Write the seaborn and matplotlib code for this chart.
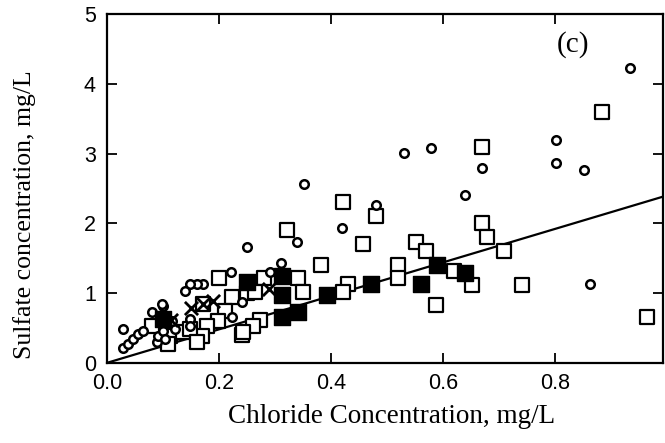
import matplotlib
matplotlib.use("Agg")
import matplotlib.pyplot as plt
import seaborn as sns
import numpy as np
import pandas as pd

# ---- data ----
circle_x = [0.934, 0.802, 0.802, 0.852, 0.863, 0.670, 0.640, 0.531, 0.579, 0.481,
            0.419, 0.351, 0.339, 0.310, 0.250, 0.221, 0.291, 0.171, 0.160, 0.148,
            0.139, 0.100, 0.080, 0.098, 0.029, 0.028, 0.037, 0.046, 0.055, 0.064,
            0.089, 0.091, 0.100, 0.121, 0.148, 0.116, 0.148, 0.241, 0.223, 0.103]
circle_y = [4.23, 3.19, 2.86, 2.76, 1.13, 2.79, 2.41, 3.01, 3.08, 2.26,
            1.93, 2.56, 1.73, 1.43, 1.66, 1.30, 1.30, 1.13, 1.13, 1.13,
            1.03, 0.81, 0.73, 0.84, 0.49, 0.21, 0.27, 0.34, 0.41, 0.46,
            0.30, 0.39, 0.46, 0.49, 0.63, 0.60, 0.53, 0.87, 0.66, 0.34]

open_sq_x = [0.884, 0.670, 0.421, 0.481, 0.321, 0.458, 0.551, 0.570, 0.670, 0.679,
             0.709, 0.620, 0.651, 0.742, 0.964, 0.588, 0.520, 0.520, 0.430, 0.421,
             0.383, 0.341, 0.350, 0.280, 0.200, 0.250, 0.264, 0.223, 0.172, 0.210,
             0.198, 0.178, 0.273, 0.260, 0.241, 0.169, 0.080, 0.112, 0.109, 0.136,
             0.148, 0.160, 0.243]
open_sq_y = [3.59, 3.10, 2.30, 2.11, 1.90, 1.71, 1.73, 1.61, 2.01, 1.81,
             1.61, 1.31, 1.11, 1.11, 0.66, 0.83, 1.41, 1.21, 1.13, 1.01,
             1.41, 1.21, 1.01, 1.21, 1.21, 1.00, 1.01, 0.94, 0.85, 0.74,
             0.60, 0.53, 0.61, 0.53, 0.40, 0.39, 0.53, 0.39, 0.27, 0.44,
             0.49, 0.30, 0.44]

filled_sq_x = [0.100, 0.250, 0.312, 0.312, 0.312, 0.341, 0.392, 0.471, 0.560, 0.590, 0.640]
filled_sq_y = [0.63, 1.16, 1.24, 0.97, 0.66, 0.73, 0.97, 1.13, 1.13, 1.41, 1.29]

cross_x = [0.115, 0.150, 0.190, 0.172, 0.290]
cross_y = [0.62, 0.79, 0.89, 0.84, 1.06]

fit_slope = 2.4
fit_x = [0.0, 1.0]

# ---- figure ----
sns.set_theme(style="white")
plt.rcParams["font.family"] = ["Liberation Sans", "DejaVu Sans"]
plt.rcParams["text.color"] = "black"
plt.rcParams["axes.labelcolor"] = "black"

fig = plt.figure(figsize=(6.65, 4.43), dpi=100)
ax = fig.add_axes([0.161, 0.181, 0.836, 0.787])

fit_df = pd.DataFrame({"x": fit_x, "y": [fit_slope * v for v in fit_x]})
sns.lineplot(data=fit_df, x="x", y="y", ax=ax, color="black", linewidth=1.6, zorder=2)

sns.scatterplot(x=open_sq_x, y=open_sq_y, ax=ax, marker="s", s=110,
                facecolor="white", edgecolor="black", linewidth=1.6, zorder=3)
sns.scatterplot(x=circle_x, y=circle_y, ax=ax, marker="o", s=38,
                facecolor="white", edgecolor="black", linewidth=1.8, zorder=4)
sns.scatterplot(x=filled_sq_x, y=filled_sq_y, ax=ax, marker="s", s=120,
                color="black", edgecolor="black", linewidth=1.0, zorder=5)
sns.scatterplot(x=cross_x, y=cross_y, ax=ax, marker="x", s=90,
                color="black", linewidth=2.0, zorder=6)

ax.set_xlim(0, 0.993)
ax.set_ylim(0, 5)
ax.set_xticks([0.0, 0.2, 0.4, 0.6, 0.8])
ax.set_xticklabels(["0.0", "0.2", "0.4", "0.6", "0.8"])
ax.set_yticks([0, 1, 2, 3, 4, 5])
ax.set_yticklabels(["0", "1", "2", "3", "4", "5"])

ax.tick_params(direction="in", length=7, width=1.3, top=True, right=True,
               bottom=True, left=True, labelsize=15.5, colors="black")
ax.tick_params(axis="x", pad=7)
ax.tick_params(axis="y", pad=8)
for sp in ax.spines.values():
    sp.set_linewidth(1.6)
    sp.set_color("black")

ax.set_xlabel("Chloride Concentration, mg/L", family=["Liberation Serif"], fontsize=19.5, color="black")
ax.set_ylabel("Sulfate concentration, mg/L", family=["Liberation Serif"], fontsize=18.5, color="black")
ax.xaxis.set_label_coords(0.511, -0.118)
ax.yaxis.set_label_coords(-0.128, 0.424)
ax.text(0.838, 0.914, "(c)", transform=ax.transAxes, family=["Liberation Serif"],
        fontsize=21, ha="center", va="center", color="black")

fig.savefig("out.png", dpi=100)
